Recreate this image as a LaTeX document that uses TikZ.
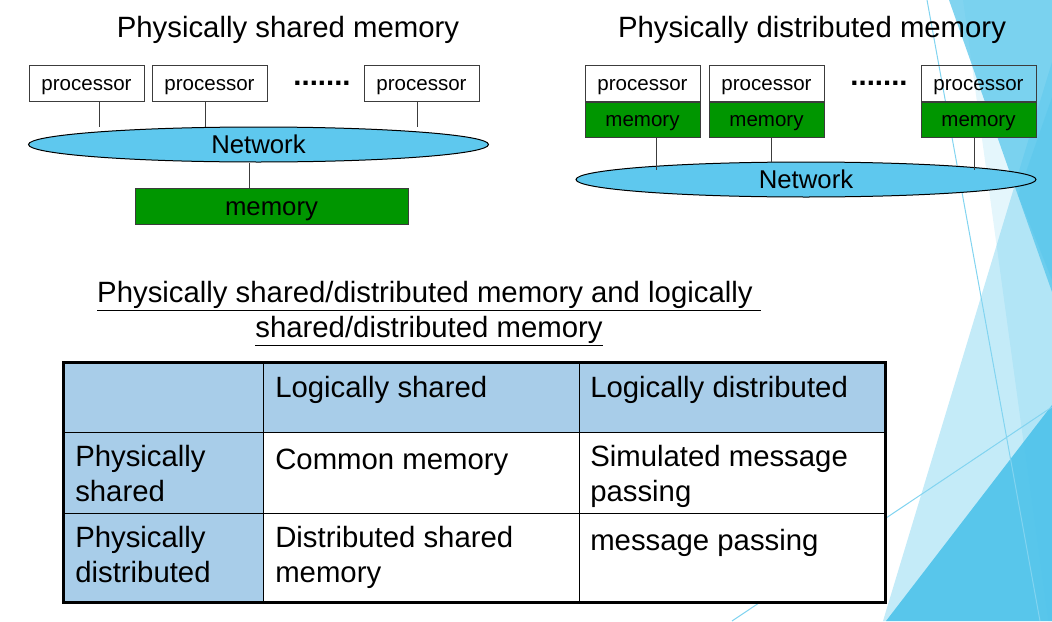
\documentclass[tikz,border=0pt]{standalone}
\usepackage{fontspec}
\setmainfont{Liberation Sans}
\usetikzlibrary{calc, positioning, shapes.geometric}
\definecolor{netblue}{RGB}{94,200,238}
\definecolor{memgreen}{RGB}{0,150,0}
\definecolor{hdrblue}{RGB}{168,205,233}
\definecolor{facet}{RGB}{76,194,234}
\definecolor{boxline}{RGB}{60,60,60}
\tikzset{
  proc/.style={draw=boxline, line width=0.75pt, minimum width=86.25pt, minimum height=27pt, inner sep=0pt, text height=10.5pt, text depth=0pt, font=\fontsize{15.4}{18}\selectfont},
  mem/.style={proc, fill=memgreen, minimum height=26.25pt},
  netw/.style={ellipse, draw=black, line width=0.75pt, fill=netblue, minimum width=345pt, minimum height=26.25pt, inner sep=0pt, font=\fontsize{19.3}{22}\selectfont},
  stub/.style={draw=boxline, line width=0.75pt},
  title/.style={font=\fontsize{22}{26.25}\selectfont},
  dotrow/.style={font=\fontsize{22}{26}\selectfont\bfseries, inner sep=0pt},
  cell/.style={draw=black, line width=0.75pt, anchor=north west, inner sep=0pt},
  celltext/.style={anchor=north west, inner sep=0pt, align=left, font=\fontsize{22}{26.25}\selectfont, execute at begin node=\strut}
}
\begin{document}
\begin{tikzpicture}[x=0.75pt, y=-0.75pt]
\useasboundingbox (0,0) rectangle (1052,621);
% background facets %
\fill[facet, opacity=0.15] (963,0) -- (1052,0) -- (1052,621) -- (1048,621) -- cycle;
\fill[facet, opacity=0.7] (949,0) -- (1052,0) -- (1052,292) -- cycle;
\fill[facet, opacity=0.3] (1052,97) -- (1018,195) -- (1052,280) -- cycle;
\fill[facet, opacity=0.33] (1052,62) -- (883,621) -- (1052,621) -- cycle;
\fill[facet, opacity=0.9] (1052,405) -- (886,621) -- (1052,621) -- cycle;
\draw[facet!70, line width=0.75pt] (927,0) -- (1040,621);
\draw[facet!70, line width=0.75pt] (732,621) -- (1052,407);
% titles %
\node[title] (t1) at (288,30) {Physically shared memory};
\node[title] (t2) at (812,30) {Physically distributed memory};
% shared memory %
\node[proc] (p1) at (86.5,83) {processor};
\node[proc] (p2) at (209.5,83) {processor};
\node[proc] (p3) at (421.5,83) {processor};
\node[dotrow] (d1) at (322,83) {.......};
\node[netw] (n1) at (258.5,144.5) {Network};
\node[mem, minimum width=204.75pt, minimum height=27pt, text height=14.5pt, font=\fontsize{19.3}{22}\selectfont] (m0) at (271.5,206) {memory};
\coordinate (s1) at ($(p1.south)+(12.5,0)$);
\coordinate (s2) at ($(p2.south)+(-4.5,0)$);
\coordinate (s3) at ($(p3.south)+(-4.5,0)$);
\coordinate (s0) at ($(n1.south)+(-9.5,0)$);
\draw[stub] (s1) -- (s1 |- n1.north);
\draw[stub] (s2) -- (s2 |- n1.north);
\draw[stub] (s3) -- (s3 |- n1.north);
\draw[stub] (s0) -- (s0 |- m0.north);
% distributed memory %
\node[proc] (q1) at (642.5,83) {processor};
\node[mem, below=0pt of q1] (m1) {memory};
\node[proc] (q2) at (766.5,83) {processor};
\node[mem, below=0pt of q2] (m2) {memory};
\node[proc] (q3) at (978.5,83) {processor};
\node[mem, below=0pt of q3] (m3) {memory};
\node[dotrow] (d2) at (879,83) {.......};
\node[netw] (n2) at (806,179.5) {Network};
\coordinate (s4) at ($(m1.south)+(13.5,0)$);
\coordinate (s5) at ($(m2.south)+(4.5,0)$);
\coordinate (s6) at ($(m3.south)+(-4.5,0)$);
\draw[stub] (s4) -- ($(s4 |- n2.north)+(0,8)$);
\draw[stub] (s5) -- (s5 |- n2.north);
\draw[stub] (s6) -- ($(s6 |- n2.north)+(0,8)$);
% subtitle %
\node[title, align=center] (sub) at (429,313.5) {\underline{Physically shared/distributed memory and logically }\\\underline{shared/distributed memory}};
% table %
\node[cell, fill=hdrblue, minimum width=150pt, minimum height=52.5pt] (r1c1) at (63,362) {};
\node[cell, fill=hdrblue, minimum width=237pt, minimum height=52.5pt] (r1c2) at (263,362) {};
\node[cell, fill=hdrblue, minimum width=228.75pt, minimum height=52.5pt] (r1c3) at (579,362) {};
\node[cell, fill=hdrblue, minimum width=150pt, minimum height=60.75pt] (r2c1) at (63,432) {};
\node[cell, fill=white, minimum width=237pt, minimum height=60.75pt] (r2c2) at (263,432) {};
\node[cell, fill=white, minimum width=228.75pt, minimum height=60.75pt] (r2c3) at (579,432) {};
\node[cell, fill=hdrblue, minimum width=150pt, minimum height=66pt] (r3c1) at (63,513) {};
\node[cell, fill=white, minimum width=237pt, minimum height=66pt] (r3c2) at (263,513) {};
\node[cell, fill=white, minimum width=228.75pt, minimum height=66pt] (r3c3) at (579,513) {};
\draw[line width=2.25pt] (r1c1.north west) rectangle (r3c3.south east);
\node[celltext] (x12) at ([shift={(12,11)}]r1c2.north west) {Logically shared};
\node[celltext] (x13) at ([shift={(11,11)}]r1c3.north west) {Logically distributed};
\node[celltext] (x21) at ([shift={(12,13)}]r2c1.north west) {Physically\\shared};
\node[celltext] (x22) at ([shift={(12,13)}]r2c2.north west) {Common memory};
\node[celltext] (x23) at ([shift={(11,13)}]r2c3.north west) {Simulated message\\passing};
\node[celltext] (x31) at ([shift={(12,13)}]r3c1.north west) {Physically\\distributed};
\node[celltext] (x32) at ([shift={(12,13)}]r3c2.north west) {Distributed shared\\memory};
\node[celltext] (x33) at ([shift={(11,13)}]r3c3.north west) {message passing};
\end{tikzpicture}
\end{document}
